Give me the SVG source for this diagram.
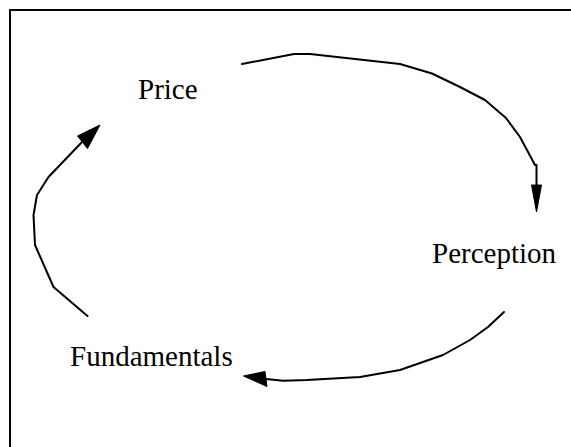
<svg xmlns="http://www.w3.org/2000/svg" width="571" height="447" viewBox="0 0 571 447">
<style>
.lbl{font-family:"Liberation Serif","Times New Roman",serif;font-size:29px;fill:#000}
.ln{fill:none;stroke:#000;stroke-width:2;stroke-linejoin:round;stroke-linecap:round}
.ah{fill:#000;stroke:#000;stroke-width:1;stroke-linejoin:miter}
</style>
<rect x="0" y="0" width="571" height="447" fill="#fff"/>
<path d="M10,447 V10 H571" fill="none" stroke="#000" stroke-width="2"/>
<g id="connectors">
<g id="price-to-perception">
<polyline class="ln" points="242,64 294,54 310,54 400,64 432,73.5 460,87 485,100 506,118 520,137 535,165 536.5,165 536.5,186"/>
<polygon class="ah" points="531.5,185 541.5,185 536.5,212"/>
</g>
<g id="perception-to-fundamentals">
<polyline class="ln" points="504,312 488,327 470,340 443,355 400,370 360,377 307,380 283,380.7 266,379"/>
<polygon class="ah" points="265,371.5 267,386.5 243.5,376"/>
</g>
<g id="fundamentals-to-price">
<polyline class="ln" points="87.5,316 53.5,287 35,245 33.5,215 37,195 48.5,177 82,142"/>
<polygon class="ah" points="77.5,136 87.5,148.5 100,125"/>
</g>
</g>
<g id="node-price"><text class="lbl" x="138" y="99">Price</text></g>
<g id="node-perception"><text class="lbl" x="432" y="263">Perception</text></g>
<g id="node-fundamentals"><text class="lbl" x="70" y="366">Fundamentals</text></g>
</svg>
